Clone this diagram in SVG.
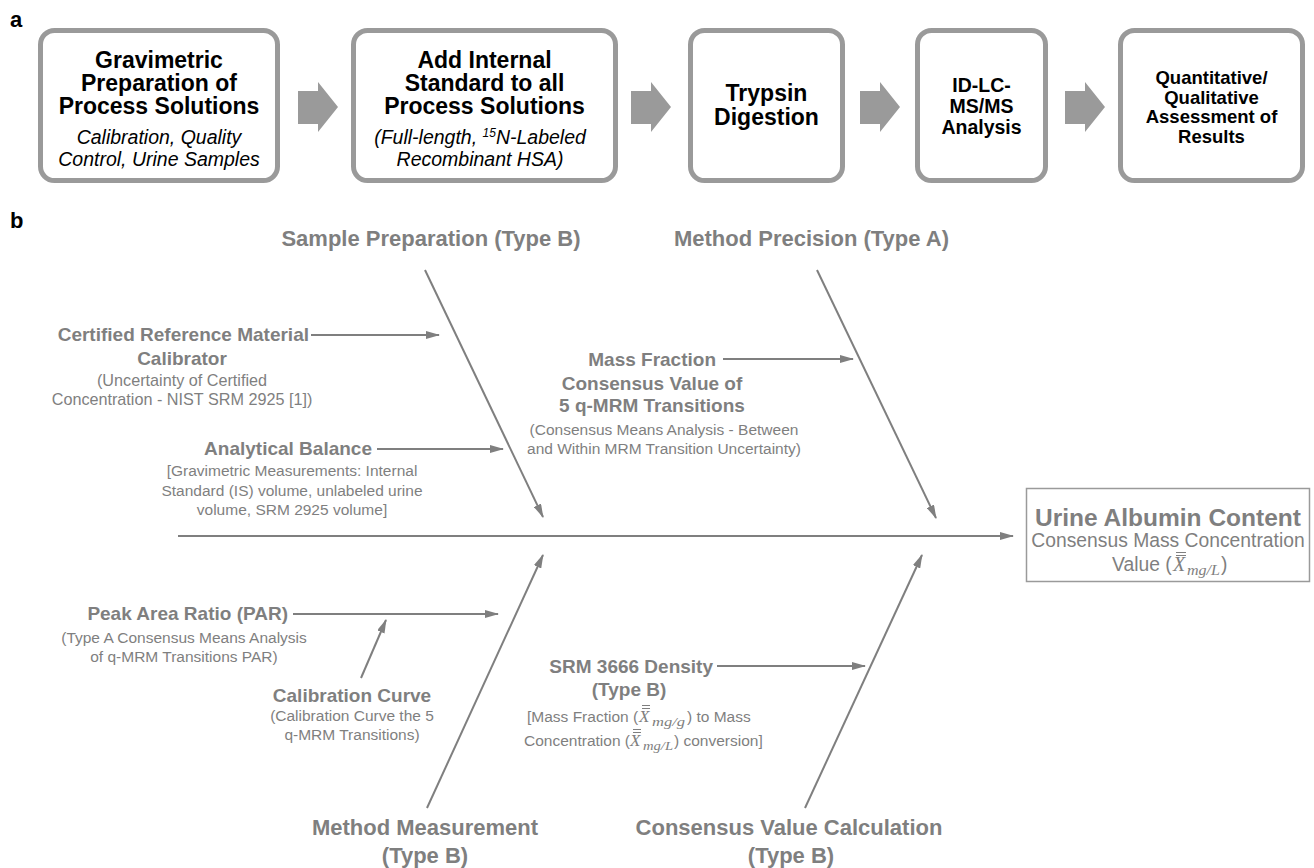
<svg xmlns="http://www.w3.org/2000/svg" width="1314" height="868" viewBox="0 0 1314 868">
<style>
text{font-family:"Liberation Sans",Arial,sans-serif}
.lab{font-weight:bold;font-size:22px;fill:#000}
.bx{fill:#fff;stroke:#9a9a9a;stroke-width:5}
.h1{font-weight:bold;font-size:23px;fill:#000;text-anchor:middle}
.h2{font-weight:bold;font-size:19.5px;fill:#000;text-anchor:middle}
.h3{font-weight:bold;font-size:18.5px;fill:#000;text-anchor:middle}
.it{font-style:italic;font-size:19.5px;fill:#000;text-anchor:middle}
.blk{fill:#9a9a9a}
.ttl{font-weight:bold;font-size:22px;fill:#7f7f7f;text-anchor:middle}
.bl{font-weight:bold;font-size:19px;fill:#7f7f7f}
.rg{font-size:15.5px;fill:#7f7f7f}
.rg2{font-size:16.2px;fill:#7f7f7f}
.m{text-anchor:middle}
.e{text-anchor:end}
.ln{stroke:#7f7f7f;stroke-width:2;fill:none}
.ar{marker-end:url(#ah)}
.mx{font-family:"Liberation Serif","Times New Roman",serif;font-style:italic}
.bar{stroke:#7f7f7f;stroke-width:1}
</style>
<defs>
<marker id="ah" markerUnits="userSpaceOnUse" markerWidth="14" markerHeight="8" refX="13" refY="4" orient="auto">
<path d="M0,0 L14,4 L0,8 z" fill="#7f7f7f"/>
</marker>
<path id="blkarrow" d="M0,9 H20 V0 L40,25 L20,50 V42 H0 z"/>
</defs>

<!-- Panel a -->
<text class="lab" x="10" y="27">a</text>
<g id="step1">
<rect class="bx" x="40.5" y="30.5" width="237" height="150" rx="14"/>
<text class="h1" x="159" y="68">Gravimetric</text>
<text class="h1" x="159" y="91">Preparation of</text>
<text class="h1" x="159" y="114">Process Solutions</text>
<text class="it" x="159" y="144">Calibration, Quality</text>
<text class="it" x="159" y="166">Control, Urine Samples</text>
</g>
<g id="step2">
<rect class="bx" x="353.5" y="30.5" width="262" height="150" rx="14"/>
<text class="h1" x="484.5" y="68">Add Internal</text>
<text class="h1" x="484.5" y="91">Standard to all</text>
<text class="h1" x="484.5" y="114">Process Solutions</text>
<text class="it" x="480" y="144">(Full-length, <tspan font-size="12" dy="-7">15</tspan><tspan dy="7">N-Labeled</tspan></text>
<text class="it" x="480" y="166">Recombinant HSA)</text>
</g>
<g id="step3">
<rect class="bx" x="690.5" y="30.5" width="152" height="150" rx="14"/>
<text class="h1" x="766.5" y="101">Trypsin</text>
<text class="h1" x="766.5" y="125">Digestion</text>
</g>
<g id="step4">
<rect class="bx" x="917.5" y="30.5" width="128" height="150" rx="14"/>
<text class="h2" x="981.5" y="92">ID-LC-</text>
<text class="h2" x="981.5" y="113">MS/MS</text>
<text class="h2" x="981.5" y="134">Analysis</text>
</g>
<g id="step5">
<rect class="bx" x="1120.5" y="30.5" width="182" height="150" rx="14"/>
<text class="h3" x="1211.5" y="84">Quantitative/</text>
<text class="h3" x="1211.5" y="103.5">Qualitative</text>
<text class="h3" x="1211.5" y="123">Assessment of</text>
<text class="h3" x="1211.5" y="142.5">Results</text>
</g>
<g id="flow-arrows" class="blk">
<use href="#blkarrow" x="298" y="82"/>
<use href="#blkarrow" x="631" y="82"/>
<use href="#blkarrow" x="860" y="82"/>
<use href="#blkarrow" x="1065" y="82"/>
</g>

<!-- Panel b -->
<text class="lab" x="10" y="228">b</text>

<g id="connectors">
<line class="ln ar" x1="178" y1="536" x2="1013" y2="536"/>
<line class="ln ar" x1="425" y1="270" x2="543" y2="517"/>
<line class="ln ar" x1="817" y1="270" x2="936" y2="518"/>
<line class="ln ar" x1="427" y1="808" x2="543" y2="555"/>
<line class="ln ar" x1="805" y1="808" x2="922" y2="555"/>
<line class="ln ar" x1="311" y1="335" x2="439" y2="335"/>
<line class="ln ar" x1="377" y1="449" x2="503" y2="449"/>
<line class="ln ar" x1="723" y1="359" x2="853" y2="359"/>
<line class="ln ar" x1="293" y1="614" x2="498" y2="614"/>
<line class="ln ar" x1="361" y1="678" x2="386" y2="620"/>
<line class="ln ar" x1="717" y1="666" x2="865" y2="666"/>
</g>

<g id="cat-sample-prep">
<text class="ttl" x="431" y="246">Sample Preparation (Type B)</text>
</g>
<g id="cat-method-precision">
<text class="ttl" x="811.5" y="246">Method Precision (Type A)</text>
</g>
<g id="cat-method-measurement">
<text class="ttl" x="425" y="835">Method Measurement</text>
<text class="ttl" x="425" y="863">(Type B)</text>
</g>
<g id="cat-consensus">
<text class="ttl" x="789" y="835">Consensus Value Calculation</text>
<text class="ttl" x="791" y="863">(Type B)</text>
</g>

<g id="crm">
<text class="bl e" x="309" y="341">Certified Reference Material</text>
<text class="bl m" x="182" y="365">Calibrator</text>
<text class="rg2 m" x="182" y="386">(Uncertainty of Certified</text>
<text class="rg2 m" x="182" y="405">Concentration - NIST SRM 2925 [1])</text>
</g>
<g id="balance">
<text class="bl e" x="372" y="455">Analytical Balance</text>
<text class="rg m" x="292" y="476">[Gravimetric Measurements: Internal</text>
<text class="rg m" x="292" y="496">Standard (IS) volume, unlabeled urine</text>
<text class="rg m" x="292" y="515">volume, SRM 2925 volume]</text>
</g>
<g id="mass-fraction">
<text class="bl e" x="716" y="366">Mass Fraction</text>
<text class="bl m" x="652" y="390">Consensus Value of</text>
<text class="bl m" x="652" y="412">5 q-MRM Transitions</text>
<text class="rg m" x="664" y="435">(Consensus Means Analysis - Between</text>
<text class="rg m" x="664" y="454">and Within MRM Transition Uncertainty)</text>
</g>
<g id="par">
<text class="bl e" x="288" y="620">Peak Area Ratio (PAR)</text>
<text class="rg m" x="184" y="643">(Type A Consensus Means Analysis</text>
<text class="rg m" x="184" y="662">of q-MRM Transitions PAR)</text>
</g>
<g id="cal-curve">
<text class="bl m" x="352" y="702">Calibration Curve</text>
<text class="rg m" x="352" y="721">(Calibration Curve the 5</text>
<text class="rg m" x="352" y="740">q-MRM Transitions)</text>
</g>
<g id="srm3666">
<text class="bl e" x="713" y="673">SRM 3666 Density</text>
<text class="bl m" x="629" y="696">(Type B)</text>
<text class="rg" y="722"><tspan x="527">[Mass Fraction (</tspan><tspan class="mx" x="639" font-size="17">X</tspan><tspan class="mx" x="652" dy="4" font-size="13" textLength="33" lengthAdjust="spacingAndGlyphs">mg/g</tspan><tspan x="687" dy="-4">) to Mass</tspan></text>
<line class="bar" x1="642" y1="705.5" x2="650" y2="705.5"/>
<line class="bar" x1="642" y1="708.5" x2="650" y2="708.5"/>
<text class="rg" y="746"><tspan x="630" text-anchor="end">Concentration (</tspan><tspan class="mx" x="630" font-size="17">X</tspan><tspan class="mx" x="643" dy="4" font-size="13" textLength="30" lengthAdjust="spacingAndGlyphs">mg/L</tspan><tspan x="674" dy="-4">) conversion]</tspan></text>
<line class="bar" x1="633" y1="729.5" x2="641" y2="729.5"/>
<line class="bar" x1="633" y1="732.5" x2="641" y2="732.5"/>
</g>

<g id="outcome">
<rect x="1026.5" y="488.5" width="283" height="93" fill="#fff" stroke="#9a9a9a" stroke-width="1.5"/>
<text x="1168" y="526" font-weight="bold" font-size="24.5" fill="#7f7f7f" text-anchor="middle">Urine Albumin Content</text>
<text x="1168" y="547" font-size="19.3" fill="#7f7f7f" text-anchor="middle">Consensus Mass Concentration</text>
<text y="571" font-size="19.3" fill="#7f7f7f"><tspan x="1112">Value (</tspan><tspan class="mx" x="1173" font-size="20">X</tspan><tspan class="mx" x="1187" dy="4" font-size="15" textLength="33" lengthAdjust="spacingAndGlyphs">mg/L</tspan><tspan x="1221" dy="-4">)</tspan></text>
<line class="bar" x1="1176" y1="552.5" x2="1186" y2="552.5"/>
<line class="bar" x1="1176" y1="555.5" x2="1186" y2="555.5"/>
</g>
</svg>
